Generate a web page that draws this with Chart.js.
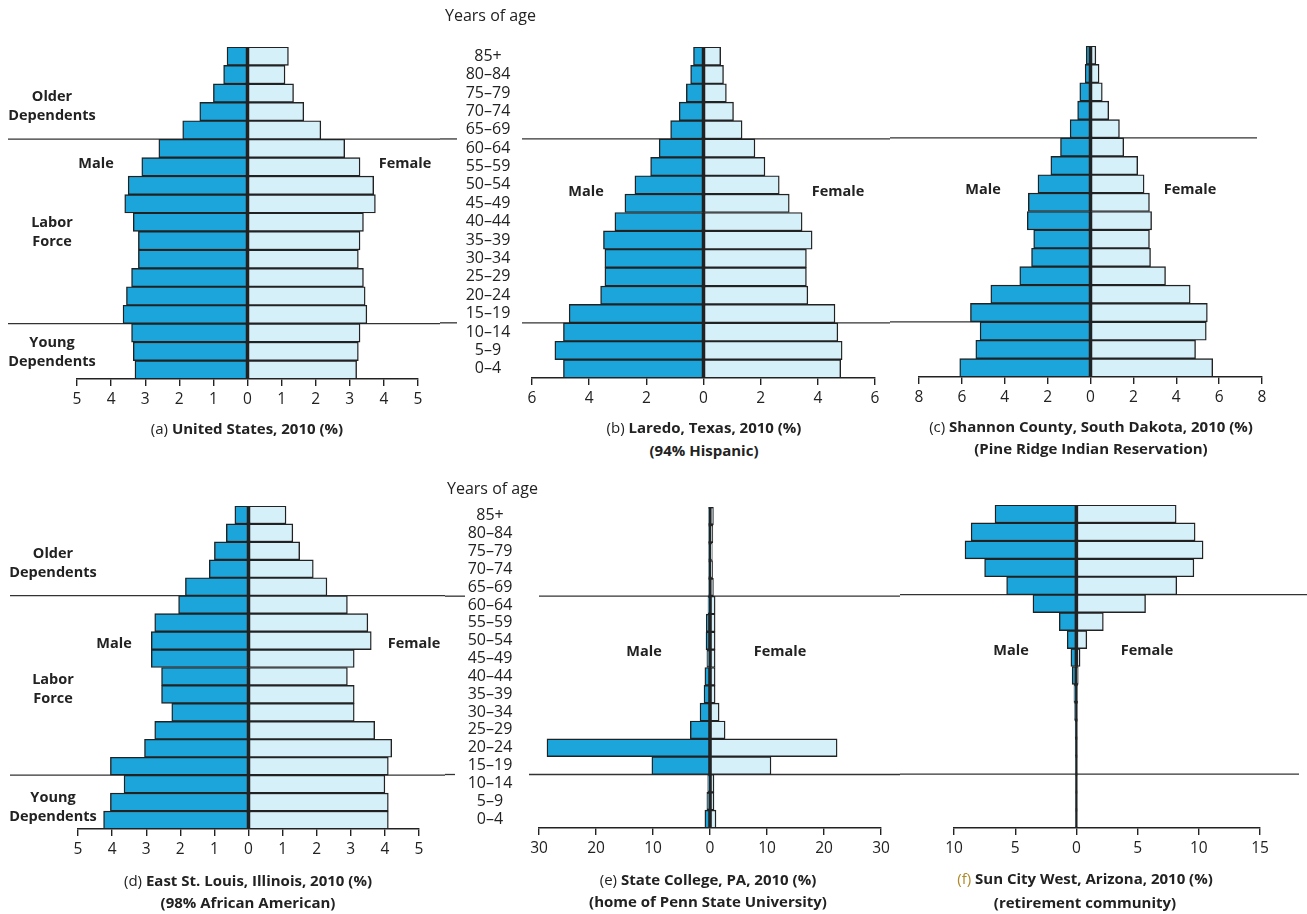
<!DOCTYPE html>
<html>
<head>
<meta charset="utf-8">
<script src="https://cdn.jsdelivr.net/npm/chart.js@4.4.1/dist/chart.umd.min.js"></script>
<style>
body { margin: 0; background: #fff; width: 1307px; height: 914px; position: relative; overflow: hidden;
       font-family: "Open Sans", "Noto Sans", sans-serif; color: #222; }
canvas { position: absolute; }
.t { position: absolute; transform: translate(-50%, -50%); white-space: nowrap; text-align: center; font-size: 14.5px; line-height: 19px; }
.b { font-weight: 700; }
.cap { position: absolute; transform: translate(-50%, -50%); white-space: nowrap; font-size: 15px; font-weight: 700; }
.cap span { font-weight: 400; }
.yoa { position: absolute; font-size: 16px; transform: translateY(-50%); white-space: nowrap; }
</style>
</head>
<body>
<canvas id="cA" width="440" height="440" style="left:0;top:0"></canvas>
<canvas id="cB" width="450" height="440" style="left:440px;top:0"></canvas>
<canvas id="cC" width="417" height="440" style="left:890px;top:0"></canvas>
<canvas id="cD" width="445" height="454" style="left:0;top:460px"></canvas>
<canvas id="cE" width="455" height="454" style="left:445px;top:460px"></canvas>
<canvas id="cF" width="407" height="454" style="left:900px;top:460px"></canvas>

<!-- top row text -->
<div class="t b" style="left:52px;top:105px">Older<br>Dependents</div>
<div class="t b" style="left:52px;top:231px">Labor<br>Force</div>
<div class="t b" style="left:52px;top:351px">Young<br>Dependents</div>
<div class="t b" style="left:96px;top:162px">Male</div>
<div class="t b" style="left:405px;top:162px">Female</div>
<div class="cap" style="left:247px;top:428px"><span>(a)</span> United States, 2010 (%)</div>

<div class="yoa" style="left:445px;top:15px">Years of age</div>
<div class="t b" style="left:586px;top:190px">Male</div>
<div class="t b" style="left:838px;top:190px">Female</div>
<div class="cap" style="left:704px;top:427px"><span>(b)</span> Laredo, Texas, 2010 (%)</div>
<div class="cap" style="left:704px;top:450px">(94% Hispanic)</div>

<div class="t b" style="left:983px;top:188px">Male</div>
<div class="t b" style="left:1190px;top:188px">Female</div>
<div class="cap" style="left:1091px;top:426px"><span>(c)</span> Shannon County, South Dakota, 2010 (%)</div>
<div class="cap" style="left:1091px;top:448px">(Pine Ridge Indian Reservation)</div>

<!-- bottom row text -->
<div class="t b" style="left:53px;top:562px">Older<br>Dependents</div>
<div class="t b" style="left:53px;top:688px">Labor<br>Force</div>
<div class="t b" style="left:53px;top:806px">Young<br>Dependents</div>
<div class="t b" style="left:114px;top:642px">Male</div>
<div class="t b" style="left:414px;top:642px">Female</div>
<div class="cap" style="left:248px;top:880px"><span>(d)</span> East St. Louis, Illinois, 2010 (%)</div>
<div class="cap" style="left:248px;top:902px">(98% African American)</div>

<div class="yoa" style="left:447px;top:488px">Years of age</div>
<div class="t b" style="left:644px;top:650px">Male</div>
<div class="t b" style="left:780px;top:650px">Female</div>
<div class="cap" style="left:708px;top:879px"><span>(e)</span> State College, PA, 2010 (%)</div>
<div class="cap" style="left:708px;top:901px">(home of Penn State University)</div>

<div class="t b" style="left:1011px;top:649px">Male</div>
<div class="t b" style="left:1147px;top:649px">Female</div>
<div class="cap" style="left:1085px;top:878px"><span style="color:#b08a2a">(f)</span> Sun City West, Arizona, 2010 (%)</div>
<div class="cap" style="left:1085px;top:902px">(retirement community)</div>

<script>
// age groups, top of the pyramid first
const ages = ['85+', '80–84', '75–79', '70–74', '65–69', '60–64', '55–59', '50–54', '45–49',
              '40–44', '35–39', '30–34', '25–29', '20–24', '15–19', '10–14', '5–9', '0–4'];

// (a) United States
const usMale   = [0.6, 0.7, 1.0, 1.4, 1.9, 2.6, 3.1, 3.5, 3.6, 3.35, 3.2, 3.2, 3.4, 3.55, 3.65, 3.4, 3.35, 3.3];
const usFemale = [1.2, 1.1, 1.35, 1.65, 2.15, 2.85, 3.3, 3.7, 3.75, 3.4, 3.3, 3.25, 3.4, 3.45, 3.5, 3.3, 3.25, 3.2];

// (b) Laredo
const laredoMale   = [0.35, 0.45, 0.6, 0.85, 1.15, 1.55, 1.85, 2.4, 2.75, 3.1, 3.5, 3.45, 3.45, 3.6, 4.7, 4.9, 5.2, 4.9];
const laredoFemale = [0.6, 0.7, 0.8, 1.05, 1.35, 1.8, 2.15, 2.65, 3.0, 3.45, 3.8, 3.6, 3.6, 3.65, 4.6, 4.7, 4.85, 4.8];

// (c) Shannon County
const shannonMale   = [0.2, 0.25, 0.5, 0.6, 0.95, 1.4, 1.85, 2.45, 2.9, 2.95, 2.65, 2.75, 3.3, 4.65, 5.6, 5.15, 5.35, 6.1];
const shannonFemale = [0.25, 0.4, 0.55, 0.85, 1.35, 1.55, 2.2, 2.5, 2.75, 2.85, 2.75, 2.8, 3.5, 4.65, 5.45, 5.4, 4.9, 5.7];

// (d) East St. Louis
const eslMale   = [0.4, 0.65, 1.0, 1.15, 1.85, 2.05, 2.75, 2.85, 2.85, 2.55, 2.55, 2.25, 2.75, 3.05, 4.05, 3.65, 4.05, 4.25];
const eslFemale = [1.1, 1.3, 1.5, 1.9, 2.3, 2.9, 3.5, 3.6, 3.1, 2.9, 3.1, 3.1, 3.7, 4.2, 4.1, 4.0, 4.1, 4.1];

// (e) State College
const scMale   = [0.25, 0.25, 0.25, 0.25, 0.25, 0.35, 0.65, 0.7, 0.55, 0.9, 1.05, 1.75, 3.45, 28.6, 10.2, 0.4, 0.55, 0.9];
const scFemale = [0.6, 0.5, 0.4, 0.45, 0.6, 0.9, 0.9, 0.9, 0.9, 0.9, 0.9, 1.6, 2.65, 22.3, 10.7, 0.7, 0.7, 1.05];

// (f) Sun City West
const scwMale   = [6.65, 8.6, 9.1, 7.5, 5.7, 3.55, 1.4, 0.75, 0.45, 0.35, 0.2, 0.15, 0.1, 0.08, 0.06, 0.05, 0.05, 0.05];
const scwFemale = [8.15, 9.7, 10.35, 9.6, 8.2, 5.65, 2.2, 0.85, 0.3, 0.15, 0.1, 0.08, 0.06, 0.05, 0.05, 0.05, 0.05, 0.05];

const maleColor = '#1ba5da';
const femaleColor = '#d6f0fa';
const ink = '#222';

// dependency-group separator lines + zero line + age labels
const pyramidDeco = {
    id: 'pyramidDeco',
    beforeDatasetsDraw(chart, args, opts) {
        const ctx = chart.ctx;
        const y = chart.scales.y;
        ctx.save();
        ctx.strokeStyle = '#333';
        ctx.lineWidth = 1.3;
        opts.lines.forEach(l => {
            const py = (y.getPixelForValue(l.after) + y.getPixelForValue(l.after + 1)) / 2;
            l.segs.forEach(s => {
                ctx.beginPath();
                ctx.moveTo(s[0], py);
                ctx.lineTo(s[1], py);
                ctx.stroke();
            });
        });
        ctx.restore();
    },
    afterDatasetsDraw(chart, args, opts) {
        const ctx = chart.ctx;
        const x = chart.scales.x, y = chart.scales.y;
        const area = chart.chartArea;
        ctx.save();
        ctx.strokeStyle = ink;
        ctx.lineWidth = 2.2;
        const x0 = x.getPixelForValue(0);
        ctx.beginPath();
        ctx.moveTo(x0, area.top);
        ctx.lineTo(x0, area.bottom);
        ctx.stroke();
        if (opts.ageX) {
            ctx.fillStyle = ink;
            ctx.font = '16px "Open Sans", sans-serif';
            ctx.textAlign = 'center';
            ctx.textBaseline = 'middle';
            chart.data.labels.forEach((lab, i) => {
                ctx.fillText(lab, opts.ageX, y.getPixelForValue(i));
            });
        }
        ctx.restore();
    }
};

function pyramid(id, male, female, xMin, xMax, step, pad, deco) {
    const ctx = document.getElementById(id).getContext('2d');
    return new Chart(ctx, {
        type: 'bar',
        data: {
            labels: ages,
            datasets: [{
                label: 'Male',
                data: male.map(v => -v),
                backgroundColor: maleColor,
                borderColor: ink,
                borderWidth: 1.4,
                borderSkipped: false
            }, {
                label: 'Female',
                data: female,
                backgroundColor: femaleColor,
                borderColor: ink,
                borderWidth: 1.4,
                borderSkipped: false
            }]
        },
        options: {
            indexAxis: 'y',
            responsive: false,
            animation: false,
            layout: { padding: pad },
            datasets: { bar: { barPercentage: 1, categoryPercentage: 1 } },
            plugins: {
                legend: { display: false },
                tooltip: { enabled: false },
                pyramidDeco: deco
            },
            scales: {
                x: {
                    stacked: true,
                    min: xMin,
                    max: xMax,
                    afterFit: s => { s.height = 30; },
                    grid: { drawOnChartArea: false, drawTicks: true, tickLength: 7, color: ink, lineWidth: 1.4 },
                    border: { display: true, color: ink, width: 1.4 },
                    ticks: {
                        stepSize: step,
                        padding: 4,
                        color: ink,
                        font: { family: '"Open Sans", sans-serif', size: 15.5 },
                        callback: v => Math.abs(v)
                    }
                },
                y: {
                    stacked: true,
                    display: false
                }
            }
        },
        plugins: [pyramidDeco]
    });
}

pyramid('cA', usMale, usFemale, -5, 5, 1,
    { left: 77, right: 22, top: 47, bottom: 31 },
    { lines: [{ after: 4, segs: [[8, 440]] }, { after: 14, segs: [[8, 440]] }] });

pyramid('cB', laredoMale, laredoFemale, -6, 6, 2,
    { left: 92, right: 15, top: 47, bottom: 32 },
    { ageX: 48, lines: [{ after: 4, segs: [[0, 17], [82, 450]] }, { after: 14, segs: [[0, 17], [82, 450]] }] });

pyramid('cC', shannonMale, shannonFemale, -8, 8, 2,
    { left: 29, right: 45, top: 46, bottom: 33 },
    { lines: [{ after: 4, segs: [[0, 367]] }, { after: 14, segs: [[0, 150]] }] });

pyramid('cD', eslMale, eslFemale, -5, 5, 1,
    { left: 78, right: 26, top: 46, bottom: 55 },
    { lines: [{ after: 4, segs: [[10, 445]] }, { after: 14, segs: [[10, 445]] }] });

pyramid('cE', scMale, scFemale, -30, 30, 10,
    { left: 94, right: 19, top: 47, bottom: 56 },
    { ageX: 45, lines: [{ after: 4, segs: [[0, 20], [94, 455]] }, { after: 14, segs: [[0, 10], [84, 455]] }] });

pyramid('cF', scwMale, scwFemale, -10, 15, 5,
    { left: 54, right: 47, top: 45, bottom: 56 },
    { lines: [{ after: 4, segs: [[0, 407]] }, { after: 14, segs: [[0, 399]] }] });
</script>
</body>
</html>
